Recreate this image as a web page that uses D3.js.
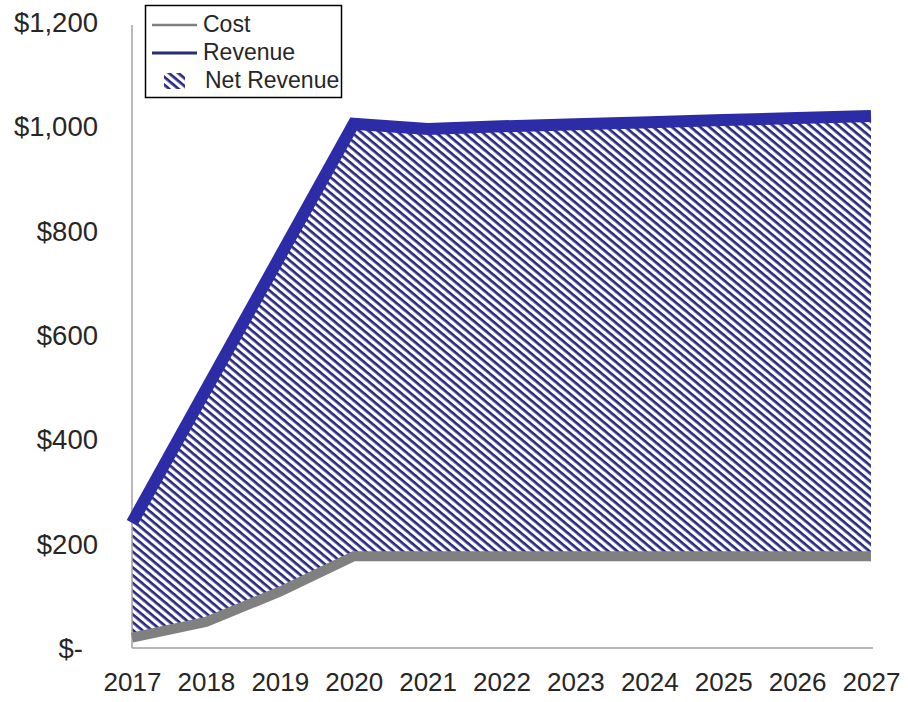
<!DOCTYPE html>
<html>
<head>
<meta charset="utf-8">
<script src="https://cdn.jsdelivr.net/npm/d3@7/dist/d3.min.js"></script>
<style>
  html, body { margin: 0; padding: 0; background: #fff; }
  svg { display: block; font-family: "Liberation Sans", Arial, sans-serif; }
</style>
</head>
<body>
<svg id="chart" width="908" height="702"></svg>
<script>
// Chart data
const years = [2017, 2018, 2019, 2020, 2021, 2022, 2023, 2024, 2025, 2026, 2027];
const revenue = [240, 495, 750, 1005, 995, 1000, 1004, 1008, 1012, 1016, 1020];
const cost = [20, 50, 108, 176, 176, 176, 176, 176, 176, 176, 176];
const yTicks = [0, 200, 400, 600, 800, 1000, 1200];
const legendLabels = ["Cost", "Revenue", "Net Revenue"];

const svg = d3.select("#chart");
const plotLeft = 132, plotRight = 871, plotTop = 22, plotBottom = 648;

const x = d3.scalePoint().domain(years).range([plotLeft, plotRight]);
const y = d3.scaleLinear().domain([0, 1200]).range([plotBottom, plotTop]);

const rows = years.map((yr, i) => ({ year: yr, revenue: revenue[i], cost: cost[i] }));

// Diagonal hatch used for the net revenue band
const defs = svg.append("defs");
const pat = defs.append("pattern")
  .attr("id", "hatch")
  .attr("patternUnits", "userSpaceOnUse")
  .attr("width", 12)
  .attr("height", 6)
  .attr("patternTransform", "rotate(40)");
pat.append("rect").attr("width", 12).attr("height", 6).attr("fill", "#fff");
pat.append("rect").attr("y", 0).attr("width", 12).attr("height", 2.7).attr("fill", "#2a2a80");

// Net revenue area between cost and revenue
svg.append("path")
  .datum(rows)
  .attr("fill", "url(#hatch)")
  .attr("d", d3.area()
    .x(d => x(d.year))
    .y0(d => y(d.cost))
    .y1(d => y(d.revenue)));

// Axes
const yAxis = d3.axisLeft(y).tickValues(yTicks).tickSize(0).tickPadding(0)
  .tickFormat(d => d === 0 ? "$-" : "$" + d3.format(",")(d));
const yg = svg.append("g").attr("transform", `translate(98,0)`).call(yAxis);
yg.select(".domain").remove();
yg.selectAll("text")
  .attr("font-size", 27.5)
  .attr("fill", "#262626")
  .attr("font-family", "Liberation Sans, Arial, sans-serif")
  .attr("dy", "0.35em")
  .attr("dx", d => d === 0 ? -15 : 0);

svg.append("line")
  .attr("x1", plotLeft).attr("x2", plotLeft)
  .attr("y1", plotTop + 3).attr("y2", plotBottom)
  .attr("stroke", "#a0a0a0").attr("stroke-width", 1.5);

const xAxis = d3.axisBottom(x).tickSize(0).tickPadding(0).tickFormat(d => String(d));
const xg = svg.append("g").attr("transform", `translate(0,${plotBottom})`).call(xAxis);
xg.select(".domain").remove();
xg.selectAll("text")
  .attr("font-size", 26)
  .attr("fill", "#262626")
  .attr("font-family", "Liberation Sans, Arial, sans-serif")
  .attr("y", 43)
  .attr("dy", 0);

svg.append("line")
  .attr("x1", plotLeft).attr("x2", plotRight + 2)
  .attr("y1", plotBottom).attr("y2", plotBottom)
  .attr("stroke", "#a0a0a0").attr("stroke-width", 1.5);

// Revenue and cost lines
svg.append("path")
  .datum(rows)
  .attr("fill", "none")
  .attr("stroke", "#2c2ca6")
  .attr("stroke-width", 12)
  .attr("stroke-linejoin", "miter")
  .attr("d", d3.line().x(d => x(d.year)).y(d => y(d.revenue)));

svg.append("path")
  .datum(rows)
  .attr("fill", "none")
  .attr("stroke", "#808080")
  .attr("stroke-width", 10)
  .attr("stroke-linejoin", "miter")
  .attr("d", d3.line().x(d => x(d.year)).y(d => y(d.cost)));

// Legend
const lg = svg.append("g");
lg.append("rect")
  .attr("x", 145.5).attr("y", 5.5).attr("width", 196).attr("height", 92)
  .attr("fill", "#fff").attr("stroke", "#000").attr("stroke-width", 1.5);

const legendY = [25, 53, 81];
lg.append("line").attr("x1", 152).attr("x2", 197).attr("y1", legendY[0]).attr("y2", legendY[0])
  .attr("stroke", "#808080").attr("stroke-width", 2.5);
lg.append("line").attr("x1", 152).attr("x2", 197).attr("y1", legendY[1]).attr("y2", legendY[1])
  .attr("stroke", "#2a2a7c").attr("stroke-width", 3);
lg.append("rect").attr("x", 164).attr("y", 73).attr("width", 21).attr("height", 16)
  .attr("fill", "url(#hatch)");

lg.selectAll("text.leg")
  .data(legendLabels)
  .enter().append("text")
  .attr("class", "leg")
  .attr("x", (d, i) => i === 2 ? 205 : 203)
  .attr("y", (d, i) => [23.5, 51.5, 80][i])
  .attr("dy", "0.35em")
  .attr("font-size", 23)
  .attr("fill", "#262626")
  .text(d => d);
</script>
</body>
</html>
